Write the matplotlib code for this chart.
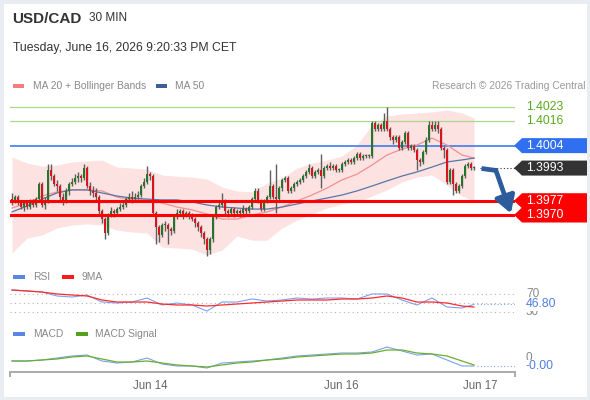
import numpy as np
import matplotlib
matplotlib.use("Agg")
import matplotlib.pyplot as plt
from matplotlib.patches import Polygon, Rectangle

plt.rcParams["font.family"] = ["Liberation Sans", "DejaVu Sans"]

# ---- data (prices in pips above 1.3900) ----
BASE = 1.3900
PIP = 0.0001

first_open = 78
closes = [77, 79, 76, 74, 76, 74, 77, 75, 78, 85,
          75, 77, 92, 89, 85, 84, 79, 77, 82, 85,
          86, 88, 89, 88, 93, 84, 82, 81, 79, 72,
          68, 61, 70, 72, 71, 73, 74, 75, 78, 79,
          78, 79, 80, 84, 86, 90, 89, 71, 64, 60,
          65, 65, 63, 62, 69, 71, 72, 70, 71, 70,
          68, 66, 64, 61, 58, 53, 58, 69, 74, 75,
          77, 72, 71, 73, 71, 72, 71, 73, 72, 74,
          78, 82, 77, 73, 77, 79, 84, 79, 78, 83,
          87, 88, 82, 83, 85, 86, 87, 89, 91, 93,
          89, 91, 92, 89, 93, 94, 93, 94, 92, 92,
          95, 96, 97, 96, 98, 100, 98, 99, 99, 99,
          115, 112, 114, 112, 116, 112, 108, 107, 108, 103,
          106, 110, 103, 104, 102, 97, 96, 101, 107, 114,
          112, 114, 112, 103, 102, 86, 92, 85, 82, 84,
          89, 94, 95, 93, 93]
highs = [81, 80, 80, 77, 77, 77, 78, 78, 79, 86,
         86, 79, 95, 95, 90, 87, 85, 81, 83, 86,
         88, 90, 91, 90, 95, 94, 86, 84, 83, 80,
         73, 69, 71, 74, 73, 74, 76, 77, 79, 81,
         82, 81, 82, 85, 88, 94, 91, 90, 72, 65,
         66, 67, 66, 64, 70, 73, 73, 73, 72, 72,
         71, 69, 67, 65, 62, 59, 59, 70, 75, 77,
         81, 78, 73, 74, 74, 73, 73, 75, 74, 75,
         79, 83, 83, 78, 78, 80, 92, 85, 95, 84,
         88, 89, 89, 84, 86, 87, 88, 90, 92, 95,
         94, 92, 93, 100, 94, 95, 96, 95, 95, 93,
         96, 97, 98, 98, 99, 101, 101, 100, 100, 100,
         116, 116, 115, 115, 120, 123, 113, 109, 109, 109,
         107, 111, 111, 105, 105, 103, 98, 102, 108, 116,
         116, 116, 116, 113, 104, 103, 93, 93, 86, 85,
         90, 95, 96, 96, 94]
lows = [75, 76, 75, 73, 72, 73, 73, 74, 74, 77,
        74, 73, 76, 87, 84, 82, 77, 75, 76, 80,
        84, 85, 86, 86, 87, 83, 80, 79, 77, 70,
        66, 58, 60, 69, 69, 70, 72, 73, 74, 77,
        76, 77, 78, 79, 83, 85, 87, 70, 56, 57,
        59, 62, 56, 60, 61, 68, 70, 68, 69, 68,
        67, 64, 62, 59, 56, 50, 51, 57, 68, 73,
        74, 70, 69, 70, 69, 70, 69, 70, 70, 71,
        73, 77, 76, 72, 72, 76, 78, 78, 71, 77,
        82, 86, 81, 81, 82, 84, 85, 86, 88, 90,
        88, 88, 90, 83, 88, 92, 92, 92, 91, 91,
        91, 94, 95, 95, 95, 97, 97, 97, 98, 98,
        98, 111, 111, 111, 111, 111, 107, 105, 106, 102,
        102, 105, 102, 102, 101, 92, 94, 95, 100, 106,
        111, 111, 110, 102, 98, 85, 85, 80, 81, 81,
        83, 88, 93, 92, 92]

# indicators read every 5 candles (pips above 1.3900)
bb_upper = [98.4, 95.5, 94, 94.5, 96, 96.5, 97, 93.5, 93, 92.5,
            89.6, 89, 88.6, 87.6, 83.7, 81.8, 81.3, 85.7, 88.1, 93,
            95.5, 97, 98.9, 104.3, 114.1, 118.5, 119.5, 120, 120.5, 121.5,
            120, 117.5]
bb_lower = [51.4, 58.7, 60.2, 63.6, 65.1, 65.6, 65.1, 62.6, 61.7, 61.2,
            54.3, 53.8, 53.3, 50.4, 52.8, 59.7, 57.7, 57.7, 63.6, 67.5,
            70.5, 73.4, 75.4, 76.4, 79.3, 82.3, 86.2, 88.6, 89.6, 84.7,
            79.3, 76.9]
ma20 = [73.4, 75.9, 79.3, 81.3, 82.3, 82.3, 81.8, 78.8, 77.4, 77.4,
        75.9, 73.9, 72.5, 70.5, 68, 68, 70, 71.5, 73.9, 76.9,
        79.8, 83.2, 87.2, 90, 94.5, 99.4, 102.3, 104.3, 107.7, 104.3,
        99.4, 97.9]
ma50 = [71.5, 74.4, 77.8, 80.8, 82.3, 82.3, 80.8, 79.3, 78.3, 77.8,
        77.4, 77.4, 76.4, 74.9, 73.9, 73.4, 72.9, 72.9, 73.9, 75.4,
        76.9, 78.3, 79.8, 81.8, 84.2, 86.7, 89.1, 91.1, 93.5, 96,
        97, 97.9]
rsi = [78.9, 76.7, 74.4, 65.6, 63.3, 67.8, 52.2, 50, 52.2, 61.1,
       45.6, 50, 45.6, 32.2, 52.2, 52.2, 58.9, 54.4, 56.7, 61.1,
       58.9, 61.1, 61.1, 58.9, 70, 70, 56.7, 45.6, 61.1, 41.1,
       38.9, 46.8]
rsi_ma = [78.9, 76.7, 74.4, 70, 67.8, 65.6, 56.7, 52.2, 52.2, 52.2,
          47.8, 45.6, 45.6, 43.3, 45.6, 47.8, 50, 52.2, 54.4, 56.7,
          56.7, 56.7, 58.9, 58.9, 61.1, 65.6, 61.1, 52.2, 52.2, 50,
          43.3, 41.1]
# MACD in units of 0.0001
macd = [-0.75, -0.75, -0.5, 0, 0.5, 0.75, -0.75, -1.25, -1, 0,
        -1.5, -2, -2, -2.5, -1.25, -1, -0.75, -0.5, 0, 0.5,
        0.75, 1, 1.25, 1.25, 1.5, 2.75, 1.75, 0.75, 1, -0.5,
        -2, -2]
macd_signal = [-0.75, -0.75, -0.5, -0.25, 0.25, 0.5, -0.25, -1, -1, -0.75,
               -1.25, -1.75, -2, -2.25, -1.75, -1.25, -1, -0.5, -0.25, 0.25,
               0.5, 0.75, 1, 1, 1.25, 2, 2, 1.25, 1, 0.5,
               -0.75, -1.75]

levels_green = [1.4023, 1.4016]
level_blue = 1.4004
level_last = 1.3993
levels_red = [1.3977, 1.3970]
date_labels = ["Jun 14", "Jun 16", "Jun 17"]
date_pos = [46, 109.7, 156]

# ---- prep ----
n = len(closes)
idx = np.arange(n)
c = BASE + np.array(closes) * PIP
o = np.concatenate([[BASE + first_open * PIP], c[:-1]])
h = BASE + np.array(highs) * PIP
l = BASE + np.array(lows) * PIP
sidx = list(range(0, n, 5)) + [n - 1]
to_p = lambda a: BASE + np.array(a) * PIP

W, H = 590, 400
fig = plt.figure(figsize=(W / 100, H / 100), dpi=100)


def px_axes(x0, y0, x1, y1):
    ax = fig.add_axes([x0 / W, 1 - y1 / H, (x1 - x0) / W, (y1 - y0) / H])
    ax.set_xlim(-0.667, 167.67)
    for s in ax.spines.values():
        s.set_visible(False)
    ax.set_xticks([])
    ax.set_yticks([])
    ax.patch.set_alpha(0)
    return ax


def ftext(x, y, s, **kw):
    fig.text(x / W, 1 - y / H, s, va="center", **kw)


def leg_patch(x, y, color, w=12, hh=4):
    fig.patches.append(Rectangle((x / W, 1 - (y + hh / 2) / H), w / W, hh / H,
                                 transform=fig.transFigure, color=color, lw=0))


# frame
fig.patches.append(Rectangle((0, 0), 1, 1, transform=fig.transFigure, fill=False,
                             edgecolor="#e9edf2", lw=5))

# header
ftext(12, 19, "USD/CAD", fontsize=11, fontweight="bold", color="#333333")
ftext(89, 18, "30 MIN", fontsize=8.5, color="#333333")
ftext(13, 48, "Tuesday, June 16, 2026 9:20:33 PM CET", fontsize=8.8, color="#333333")
leg_patch(13, 86, "#f77b7b", w=11)
ftext(33, 86, "MA 20 + Bollinger Bands", fontsize=7.4, color="#888888")
leg_patch(156, 86, "#3a5f9a", w=11)
ftext(175, 86, "MA 50", fontsize=7.4, color="#888888")
ftext(586, 86, "Research \u00a9 2026 Trading Central", fontsize=7.4, color="#999999", ha="right")

# ---- price panel ----
ax = px_axes(10, 100, 515, 262)
ax.set_ylim(1.394696, 1.402637)
ax.fill_between(sidx, to_p(bb_lower), to_p(bb_upper), color="#fde2e2", lw=0, zorder=1)
ax.plot(sidx, to_p(ma20), color="#f39090", lw=0.9, zorder=2)
ax.plot(sidx, to_p(ma50), color="#5876a8", lw=0.9, zorder=2)

for y in levels_green:
    ax.axhline(y, color="#a9d98b", lw=0.9, zorder=1)
ax.axhline(level_blue, color="#3f7cf0", lw=1.2, zorder=1)

up = c >= o
ax.vlines(idx, l, h, color="#5e5e5e", lw=1.0, zorder=3)
body = np.where(np.abs(c - o) < 0.5 * PIP, 0.5 * PIP, c - o)
ax.bar(idx[up], body[up], bottom=o[up], width=0.85, color="#24752a", lw=0, zorder=4)
ax.bar(idx[~up], body[~up], bottom=o[~up], width=0.85, color="#d8141c", lw=0, zorder=4)

for y in levels_red:
    ax.axhline(y, color="#ff0000", lw=2.2, zorder=5)

ytr = ax.get_yaxis_transform()
fx = lambda px: (px - 10) / 505
half = 7.5 / 20400


def price_tag(price, color, txtcolor="white"):
    pts = [(fx(514), price), (fx(522), price + half), (fx(587), price + half),
           (fx(587), price - half), (fx(522), price - half)]
    ax.add_patch(Polygon(pts, closed=True, transform=ytr, color=color, lw=0,
                         clip_on=False, zorder=6))
    ax.text(fx(526), price, f"{price:.4f}", transform=ytr, color=txtcolor, fontsize=8.8,
            va="center", ha="left", zorder=7, clip_on=False)


for y in levels_green:
    ax.text(fx(526), y, f"{y:.4f}", transform=ytr, color="#5aaa1e", fontsize=8.8,
            va="center", ha="left", clip_on=False)
price_tag(level_blue, "#2f6ff0")
price_tag(level_last, "#333333")
for y in levels_red:
    price_tag(y, "#ff0000")

ax.plot([n + 1, 167.67], [level_last, level_last], ls=(0, (1, 2)), color="#333333", lw=0.8,
        clip_on=False)

# forecast arrow
arrow_col = "#2d5c9c"
ax.plot([n + 1.5, n + 6.5], [c[-1] - 0.2 * PIP, c[-1] - 1.2 * PIP], color=arrow_col, lw=3.4,
        solid_capstyle="butt", clip_on=False, zorder=8)
ax.annotate("", xy=(166.3, levels_red[1] + 0.8 * PIP), xytext=(n + 6.3, c[-1] - 1.1 * PIP),
            arrowprops=dict(arrowstyle="-|>,head_length=1.0,head_width=0.6", lw=3.4,
                            color=arrow_col, shrinkA=0, shrinkB=0),
            annotation_clip=False, zorder=8)

# ---- RSI panel ----
leg_patch(13, 277, "#5b86e5")
ftext(33, 277, "RSI", fontsize=7.4, color="#888888")
leg_patch(62, 277, "#ff1a1a")
ftext(82, 277, "9MA", fontsize=7.4, color="#888888")

ar = px_axes(10, 285, 515, 318)
ar.set_ylim(16.7, 90)
for v in (70, 50, 30):
    ar.axhline(v, ls=(0, (1, 3)), color="#b5b5b5", lw=0.8)
ar.plot(sidx, rsi, color="#7e9ff0", lw=0.8)
ar.plot(sidx, rsi_ma, color="#ff2a2a", lw=0.9)
ar.plot([n, 167.67], [rsi[-1]] * 2, ls=(0, (1, 2)), color="#8aa6ee", lw=0.8)
rtr = ar.get_yaxis_transform()
ar.text(fx(526), 70, "70", transform=rtr, fontsize=8.5, color="#888888", va="center")
ar.text(fx(526), 30, "30", transform=rtr, fontsize=8.5, color="#888888", va="center")
ar.text(fx(526), rsi[-1], f"{rsi[-1]:.2f}", transform=rtr, fontsize=8.8, color="#4f7fe6",
        va="center", bbox=dict(facecolor="white", edgecolor="none", pad=0.3))

# ---- MACD panel ----
leg_patch(13, 334, "#5b86e5")
ftext(33, 334, "MACD", fontsize=7.4, color="#888888")
leg_patch(76, 334, "#55a01c")
ftext(95, 334, "MACD Signal", fontsize=7.4, color="#888888")

am = px_axes(10, 340, 515, 372)
am.set_ylim(-3.5, 4.5)
am.plot(sidx, macd, color="#7e9ff0", lw=0.8)
am.plot(sidx, macd_signal, color="#6aae2a", lw=0.9)
am.plot([n, 167.67], [macd[-1]] * 2, ls=(0, (1, 2)), color="#8aa6ee", lw=0.8)
mtr = am.get_yaxis_transform()
am.text(fx(526), 0, "0", transform=mtr, fontsize=8.5, color="#888888", va="center")
am.text(fx(526), macd[-1], f"{macd[-1] * PIP:.2f}", transform=mtr, fontsize=8.8,
        color="#4f7fe6", va="center", bbox=dict(facecolor="white", edgecolor="none", pad=0.3))

am.spines["bottom"].set_visible(True)
am.spines["bottom"].set_color("#aaaaaa")
am.spines["bottom"].set_linewidth(1.4)
am.set_xticks(date_pos)
am.set_xticklabels(date_labels, fontsize=8.3, color="#666666")
am.tick_params(axis="x", length=0, pad=6)
for xa in (0, 1):
    am.plot([xa, xa], [0, -0.13], transform=am.transAxes, color="#aaaaaa", lw=1.4,
            clip_on=False)

fig.savefig("out.png", dpi=100)
